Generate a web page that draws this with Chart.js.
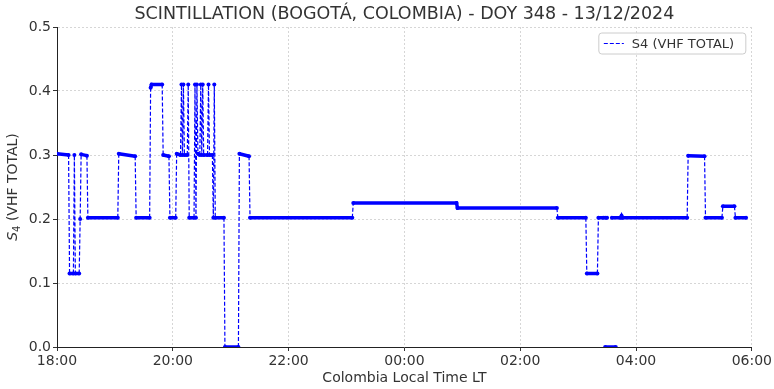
<!DOCTYPE html>
<html>
<head>
<meta charset="utf-8">
<script src="https://cdn.jsdelivr.net/npm/chart.js@4.4.1/dist/chart.umd.min.js"></script>
<style>
  html, body { margin: 0; padding: 0; background: #fff; }
</style>
</head>
<body>
<canvas id="myChart" width="774" height="389"></canvas>
<script>
// ---- values ----
const chartTitle = 'SCINTILLATION (BOGOTÁ, COLOMBIA) - DOY 348 - 13/12/2024';
const seriesLabel = 'S4 (VHF TOTAL)';
const xAxisTitle = 'Colombia Local Time LT';
const xTickLabels = ['18:00', '20:00', '22:00', '00:00', '02:00', '04:00', '06:00'];
const yTickLabels = ['0.0', '0.1', '0.2', '0.3', '0.4', '0.5'];

// local time of each sample (null value = gap in the record)
const times = [
  '18:00', '18:12', '18:13', '18:17', '18:18', '18:19', '18:23', '18:24', '18:25', '18:31',
  '18:32', '19:03', '19:04', '19:21', '19:22', '19:36', '19:37', '19:38', '19:49', '19:50',
  '19:56', '19:57', '20:03', '20:04', '20:08', '20:09', '20:10', '20:11', '20:12', '20:15',
  '20:16', '20:17', '20:22', '20:23', '20:24', '20:25', '20:26', '20:28', '20:29', '20:30',
  '20:31', '20:32', '20:36', '20:37', '20:38', '20:41', '20:42', '20:43', '20:44', '20:53',
  '20:54', '21:08', '21:09', '21:19', '21:20', '23:06', '23:07', '00:54', '00:55', '02:38',
  '02:39', '03:08', '03:09', '03:20', '03:21', '03:26', '03:26', '03:28', '03:30', '03:30',
  '03:28', '03:39', '03:39', '03:35', '03:44', '03:45', '03:46', '04:53', '04:54', '05:11',
  '05:12', '05:29', '05:30', '05:42', '05:43', '05:54'
];
const s4 = [
  0.302, 0.300, 0.115, 0.115, 0.300, 0.115, 0.115, 0.200, 0.301, 0.299,
  0.202, 0.202, 0.302, 0.298, 0.202, 0.202, 0.405, 0.410, 0.410, 0.300,
  0.298, 0.202, 0.202, 0.302, 0.300, 0.410, 0.300, 0.410, 0.300, 0.300,
  0.410, 0.202, 0.202, 0.410, 0.202, 0.410, 0.302, 0.300, 0.410, 0.300,
  0.410, 0.300, 0.300, 0.410, 0.300, 0.300, 0.202, 0.410, 0.202, 0.202,
  0.000, 0.000, 0.302, 0.298, 0.202, 0.202, 0.225, 0.225, 0.217, 0.217,
  0.202, 0.202, 0.115, 0.115, 0.202, 0.202, null, 0.202, 0.202, null,
  0.000, 0.000, null, 0.202, 0.202, 0.205, 0.202, 0.202, 0.299, 0.298,
  0.202, 0.202, 0.220, 0.220, 0.202, 0.202
];

// hours elapsed since 18:00
function hoursFrom18(t) {
  const [h, m] = t.split(':').map(Number);
  let v = h + m / 60;
  if (v < 18) v += 24;
  return v - 18;
}

const points = times.map((t, i) => ({ x: hoursFrom18(t), y: s4[i] }));

// flat runs look solid (dense markers), jumps are dashed
const isFlat = c => Math.abs(c.p1.parsed.y - c.p0.parsed.y) < 0.01;

const textColor = '#333';
const font = 'DejaVu Sans';

const decorations = {
  id: 'decorations',
  afterDraw(chart) {
    const { ctx, chartArea: a } = chart;
    const cx = (a.left + a.right) / 2;
    ctx.save();
    ctx.fillStyle = textColor;
    ctx.textBaseline = 'middle';
    ctx.textAlign = 'center';

    // title
    ctx.font = '17.5px "' + font + '"';
    ctx.fillText(chartTitle, cx, 14);

    // x axis title
    ctx.font = '14px "' + font + '"';
    ctx.fillText(xAxisTitle, cx, 378);

    // y axis title: S (italic) with subscript 4
    ctx.save();
    ctx.translate(13, (a.top + a.bottom) / 2);
    ctx.rotate(-Math.PI / 2);
    ctx.textAlign = 'left';
    const fS = 'italic 14px "' + font + '"';
    const fSub = '10px "' + font + '"';
    const fRest = '14px "' + font + '"';
    const rest = ' (VHF TOTAL)';
    ctx.font = fS; const wS = ctx.measureText('S').width;
    ctx.font = fSub; const w4 = ctx.measureText('4').width;
    ctx.font = fRest; const wR = ctx.measureText(rest).width;
    let x0 = -(wS + w4 + wR) / 2;
    ctx.font = fS; ctx.fillText('S', x0, 0); x0 += wS;
    ctx.font = fSub; ctx.fillText('4', x0, 4); x0 += w4;
    ctx.font = fRest; ctx.fillText(rest, x0, 0);
    ctx.restore();

    // legend box, top right inside the plot
    const lw = 147, lh = 21;
    const lx = a.right - 6 - lw, ly = a.top + 6;
    ctx.beginPath();
    ctx.roundRect(lx, ly, lw, lh, 3);
    ctx.fillStyle = 'rgba(255,255,255,0.85)';
    ctx.fill();
    ctx.strokeStyle = '#cccccc';
    ctx.lineWidth = 1;
    ctx.stroke();

    ctx.beginPath();
    ctx.setLineDash([4, 2]);
    ctx.strokeStyle = 'blue';
    ctx.lineWidth = 1.2;
    ctx.moveTo(lx + 5, ly + lh / 2);
    ctx.lineTo(lx + 25, ly + lh / 2);
    ctx.stroke();
    ctx.setLineDash([]);

    ctx.fillStyle = textColor;
    ctx.textAlign = 'left';
    ctx.font = '13px "' + font + '"';
    ctx.fillText(seriesLabel, lx + 33, ly + lh / 2 + 1);
    ctx.restore();
  }
};

const ctx = document.getElementById('myChart');

new Chart(ctx, {
  type: 'line',
  data: {
    datasets: [{
      label: seriesLabel,
      data: points,
      borderColor: 'blue',
      backgroundColor: 'blue',
      borderWidth: 1.2,
      borderDash: [4, 2],
      pointRadius: 2,
      pointHoverRadius: 2,
      pointBorderWidth: 0,
      pointBackgroundColor: 'blue',
      tension: 0,
      spanGaps: false,
      segment: {
        borderWidth: c => isFlat(c) ? 3.5 : 1.2,
        borderDash: c => isFlat(c) ? [] : [4, 2]
      }
    }]
  },
  options: {
    responsive: false,
    animation: false,
    layout: { padding: { top: 27, right: 21, left: 0, bottom: 0 } },
    plugins: {
      legend: { display: false },
      title: { display: false },
      tooltip: { enabled: false }
    },
    scales: {
      x: {
        type: 'linear',
        min: 0,
        max: 12,
        afterFit: s => { s.height = 42; },
        ticks: {
          stepSize: 2,
          autoSkip: false,
          maxRotation: 0,
          padding: 2,
          color: textColor,
          font: { family: font, size: 14 },
          callback: v => xTickLabels[Math.round(v / 2)]
        },
        grid: { color: '#d6d6d6', tickLength: 4, tickColor: '#333', tickBorderDash: [] },
        border: { display: true, color: '#222', width: 1, dash: [2, 2] }
      },
      y: {
        min: 0,
        max: 0.5,
        afterFit: s => { s.width = 57; },
        ticks: {
          stepSize: 0.1,
          padding: 2,
          color: textColor,
          font: { family: font, size: 14 },
          callback: (v, i) => yTickLabels[i]
        },
        grid: { color: '#d6d6d6', tickLength: 4, tickColor: '#333', tickBorderDash: [] },
        border: { display: true, color: '#222', width: 1, dash: [2, 2] }
      }
    }
  },
  plugins: [decorations]
});
</script>
</body>
</html>
